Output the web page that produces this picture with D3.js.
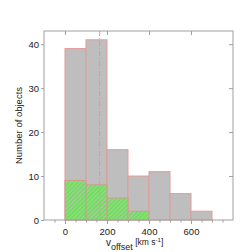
<!DOCTYPE html>
<html><head><meta charset="utf-8">
<script src="https://cdn.jsdelivr.net/npm/d3@7"></script>
<style>body{margin:0;background:#fff}svg{display:block}</style>
</head><body>
<svg id="c" width="252" height="252"></svg>
<script>
const binStarts = [0,100,200,300,400,500,600];
const binWidth = 100;
const allCounts = [39,41,16,10,11,6,2];
const subCounts = [9,8,5,2,0,0,0];
const medianLine = 165;
const xTicks = [0,200,400,600];
const yTicks = [0,10,20,30,40];

const svg = d3.select("#c");
const L=44,R=233,T=31,B=220;
const x = d3.scaleLinear().domain([-100,800]).range([L,R]);
const y = d3.scaleLinear().domain([0,43]).range([B,T]);
const axisCol="#a0a0a0", font="Liberation Sans, Arial, sans-serif", txtCol="#222";

const defs = svg.append("defs");
const pat = defs.append("pattern").attr("id","hatch").attr("patternUnits","userSpaceOnUse")
  .attr("width",3).attr("height",3).attr("patternTransform","rotate(45)");
pat.append("rect").attr("width",3).attr("height",3).attr("fill","#b4c4ac");
pat.append("rect").attr("width",1.7).attr("height",3).attr("fill","#5ee84a");

const data = binStarts.map((s,i)=>({s,a:allCounts[i],b:subCounts[i]}));
svg.append("g").selectAll("rect").data(data).join("rect")
  .attr("x",d=>x(d.s)).attr("width",d=>x(d.s+binWidth)-x(d.s))
  .attr("y",d=>y(d.a)).attr("height",d=>y(0)-y(d.a))
  .attr("fill","#bebebe").attr("stroke","#e49a9a").attr("stroke-width",1);
svg.append("g").selectAll("rect").data(data.filter(d=>d.b>0)).join("rect")
  .attr("x",d=>x(d.s)).attr("width",d=>x(d.s+binWidth)-x(d.s))
  .attr("y",d=>y(d.b)).attr("height",d=>y(0)-y(d.b))
  .attr("fill","url(#hatch)").attr("stroke","#d49a8a").attr("stroke-width",1);

svg.append("line").attr("x1",x(medianLine)).attr("x2",x(medianLine)).attr("y1",T).attr("y2",B)
  .attr("stroke","#f09090").attr("stroke-width",1).attr("stroke-dasharray","5,2,1,2");

// frame
svg.append("rect").attr("x",L).attr("y",T).attr("width",R-L).attr("height",B-T)
  .attr("fill","none").attr("stroke",axisCol).attr("stroke-width",1);

// bottom axis
const gb = svg.append("g").attr("transform",`translate(0,${B})`)
  .call(d3.axisBottom(x).tickValues(d3.range(-50,800,50).filter(v=>v%200!==0)).tickSize(2.5).tickFormat(""));
gb.call(g=>g.select(".domain").remove());
gb.selectAll("line").attr("stroke",axisCol);
const gb2 = svg.append("g").attr("transform",`translate(0,${B})`)
  .call(d3.axisBottom(x).tickValues(xTicks).tickSize(4).tickPadding(4).tickFormat(d3.format("d")));
gb2.call(g=>g.select(".domain").remove());
gb2.selectAll("line").attr("stroke",axisCol);
gb2.selectAll("text").attr("fill",txtCol).attr("font-family",font).attr("font-size",9.5);

// top axis (inward)
const gt = svg.append("g").attr("transform",`translate(0,${T})`)
  .call(d3.axisBottom(x).tickValues(xTicks).tickSize(4).tickFormat(""));
gt.call(g=>g.select(".domain").remove());
gt.selectAll("line").attr("stroke",axisCol);

// left axis
const gl = svg.append("g").attr("transform",`translate(${L},0)`)
  .call(d3.axisLeft(y).tickValues(yTicks).tickSize(3).tickPadding(2));
gl.call(g=>g.select(".domain").remove());
gl.selectAll("line").attr("stroke",axisCol);
gl.selectAll("text").attr("fill",txtCol).attr("font-family",font).attr("font-size",9.5);

// right axis (inward)
const gr = svg.append("g").attr("transform",`translate(${R},0)`)
  .call(d3.axisLeft(y).tickValues(yTicks.filter(v=>v>0)).tickSize(4).tickFormat(""));
gr.call(g=>g.select(".domain").remove());
gr.selectAll("line").attr("stroke",axisCol);

// labels
svg.append("text").attr("transform",`translate(22,${(T+B)/2}) rotate(-90)`)
  .attr("text-anchor","middle").attr("font-family",font).attr("font-size",9.5).attr("fill",txtCol)
  .text("Number of objects");
const xl = svg.append("text").attr("x",106).attr("y",246).attr("text-anchor","start")
  .attr("font-family",font).attr("font-size",10).attr("fill",txtCol);
xl.append("tspan").text("v");
xl.append("tspan").attr("dy",4).attr("font-size",9).text("offset");
xl.append("tspan").attr("dy",-5).attr("font-size",8.5).text(" [km s");
xl.append("tspan").attr("dy",-3).attr("font-size",6).text("-1");
xl.append("tspan").attr("dy",3).attr("font-size",8.5).text("]");
</script>
</body></html>
